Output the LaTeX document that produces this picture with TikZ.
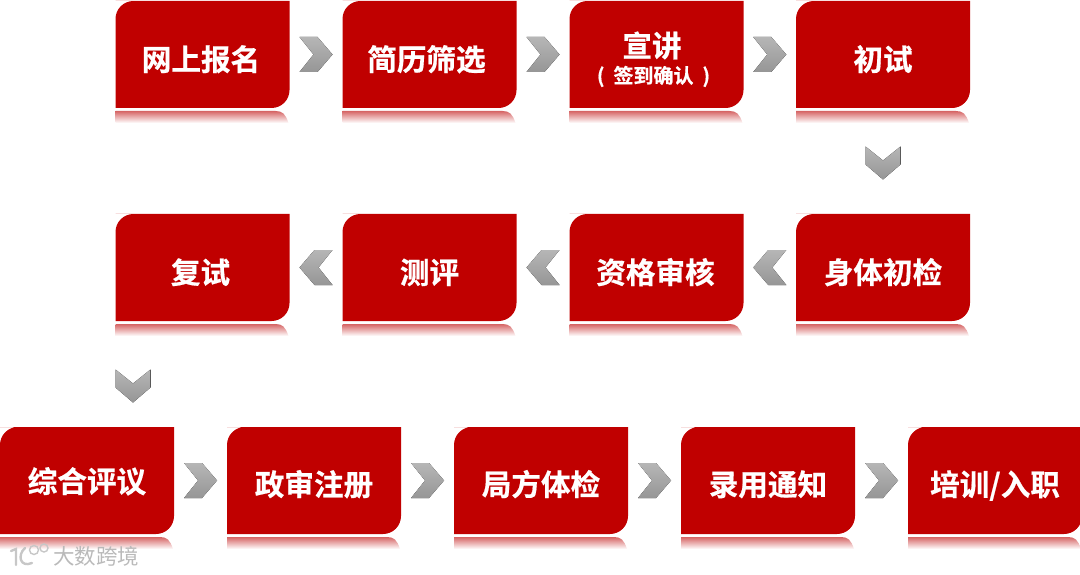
\documentclass[tikz,border=0pt]{standalone}
\usepackage{fontspec}
\setmainfont{Noto Sans CJK SC}
\newfontfamily\cjkb[FakeBold=0.6]{Noto Sans CJK SC Bold}
\usetikzlibrary{calc}
\definecolor{boxred}{RGB}{192,0,0}
\definecolor{reflred}{RGB}{214,100,100}
\definecolor{chevgrey}{RGB}{150,150,150}
\definecolor{chevlight}{RGB}{182,182,182}
\tikzset{
  boxfill/.style={fill=boxred},
  reflect/.style={top color=reflred,bottom color=white,draw=none},
  boxnode/.style={minimum width=174pt,minimum height=107pt,inner sep=0pt,text=white,font=\cjkb\fontsize{29.6}{31}\selectfont,align=center},
  chevron/.pic={
    \fill[top color=chevlight,bottom color=chevgrey] (-16.5,-17.5) -- (1.5,-17.5) -- (16.5,0) -- (1.5,17.5) -- (-16.5,17.5) -- (-2.5,0) -- cycle;
  }
}
\newcommand{\stepbox}[5][0pt]{% text shift (twice the wanted), name, left x, top y, text
  \fill[boxfill] (#3,#4) -- ({#3+174},#4) -- ({#3+174},{#4+89})
     .. controls ({#3+174},{#4+99}) and ({#3+166},{#4+107}) .. ({#3+156},{#4+107})
     -- (#3,{#4+107}) -- (#3,{#4+18})
     .. controls (#3,{#4+8}) and ({#3+8},#4) .. ({#3+18},#4) -- cycle;
  \shade[reflect] (#3,{#4+110}) -- ({#3+160},{#4+110})
     .. controls ({#3+167},{#4+110}) and ({#3+170},{#4+113}) .. ({#3+173},{#4+122}) -- (#3,{#4+122}) -- cycle;
  \node[boxnode] (#2) at ({#3+87},{#4+53.5}) {\raisebox{-16pt}[0pt][0pt]{\makebox[0pt][c]{\kern#1 #5}}};
}
\begin{document}
\begin{tikzpicture}[x=1pt,y=-1pt]
\useasboundingbox (0,0) rectangle (1080,575);
\stepbox[-3pt]{a1}{115.5}{1}{网上报名}
\stepbox[-6pt]{a2}{342.5}{1}{简历筛选}
\stepbox{a3}{569.5}{1}{\rule{0pt}{0pt}}
\stepbox{a4}{796}{1}{初试}
\node[inner sep=0pt,text=white,font=\cjkb\fontsize{29.6}{31}\selectfont] (a3t) at ($(a3.center)+(-4.5,-9)$) {宣讲};
\node[inner sep=0pt,text=white,font=\cjkb\fontsize{20}{22}\selectfont] (a3s) at ($(a3.center)+(-3,22)$) {(\kern9pt 签到确认\kern9pt )};
\stepbox{b4}{796}{214}{身体初检}
\stepbox[-2pt]{b3}{569.5}{214}{资格审核}
\stepbox{b2}{342.5}{214}{测评}
\stepbox[-4pt]{b1}{115.5}{214}{复试}
\stepbox{c1}{0}{427}{\raisebox{4pt}{综合评议}}
\stepbox{c2}{227}{427}{\raisebox{1pt}{政审注册}}
\stepbox{c3}{454}{427}{\raisebox{1pt}{局方体检}}
\stepbox{c4}{681}{427}{\raisebox{1pt}{录用通知}}
\stepbox{c5}{908}{427}{\raisebox{1pt}{培训/入职}}
\path ($(a1.east)!0.5!(a2.west)$) pic {chevron};
\path ($(a2.east)!0.5!(a3.west)$) pic {chevron};
\path ($(a3.east)!0.5!(a4.west)$) pic {chevron};
\path ($(a4.south)!0.5!(b4.north)+(0,2)$) pic[rotate=-90] {chevron};
\path ($(b4.west)!0.5!(b3.east)$) pic[rotate=180] {chevron};
\path ($(b3.west)!0.5!(b2.east)$) pic[rotate=180] {chevron};
\path ($(b2.west)!0.5!(b1.east)$) pic[rotate=180] {chevron};
\path (133,386) pic[rotate=-90] {chevron};
\path ($(c1.east)!0.5!(c2.west)$) pic {chevron};
\path ($(c2.east)!0.5!(c3.west)$) pic {chevron};
\path ($(c3.east)!0.5!(c4.west)$) pic {chevron};
\path ($(c4.east)!0.5!(c5.west)$) pic {chevron};
% watermark
\node[inner sep=0pt,text=black!27,font=\fontsize{21.5}{23}\selectfont] (wm) at (96,556) {大数跨境};
\draw[black!22,line width=2.4pt,line cap=round] (11,551) -- (16,549) -- (16,565);
\draw[black!22,line width=2.4pt,line cap=round] (25,548) .. controls (17,555) and (20,568) .. (32,563);
\draw[black!22,line width=1.4pt] (34,550) circle[radius=4.5] (44,548) circle[radius=4];
\end{tikzpicture}
\end{document}
